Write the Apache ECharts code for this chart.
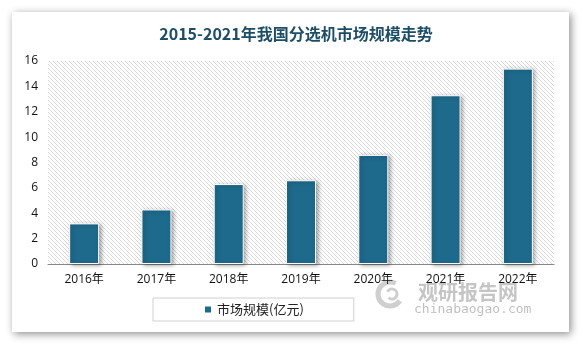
<!DOCTYPE html>
<html>
<head>
<meta charset="utf-8">
<script src="https://cdn.jsdelivr.net/npm/echarts@6/dist/echarts.min.js"></script>
<style>
html,body{margin:0;padding:0;background:#fff;}
#chart{width:583px;height:345px;}
</style>
</head>
<body>
<div id="chart"></div>
<script>
const categories = ['2016年','2017年','2018年','2019年','2020年','2021年','2022年'];
const marketSize = [3.2, 4.3, 6.3, 6.6, 8.6, 13.3, 15.4];
const seriesName = '市场规模(亿元)';
const titleText = '2015-2021年我国分选机市场规模走势';

const pc = document.createElement('canvas');
pc.width = 4; pc.height = 4;
const g = pc.getContext('2d');
g.fillStyle = '#ffffff'; g.fillRect(0,0,4,4);
g.strokeStyle = '#d9d9d9'; g.lineWidth = 1;
g.beginPath();
g.moveTo(0,0); g.lineTo(4,4);
g.moveTo(-2,2); g.lineTo(2,6);
g.moveTo(2,-2); g.lineTo(6,2);
g.stroke();

const chart = echarts.init(document.getElementById('chart'), null, {renderer:'canvas'});
chart.setOption({
  animation: false,
  backgroundColor: '#fff',
  graphic: [
    {type:'rect', z:-10, shape:{x:12,y:12,width:557,height:320},
     style:{fill:'#fff', shadowBlur:8, shadowColor:'rgba(0,0,0,0.45)', shadowOffsetX:2, shadowOffsetY:2}},
    {type:'text', z:-5, left:418, top:282,
     style:{text:'观研报告网', fill:'rgba(150,150,150,0.55)', font:'bold 20px "Noto Sans CJK SC"'}},
    {type:'text', z:-5, left:414, top:303,
     style:{text:'chinabaogao.com', fill:'rgba(150,150,150,0.6)', font:'13px "DejaVu Sans Mono"'}},
    {type:'arc', z:-5, shape:{cx:390,cy:294,r:12,startAngle:0.6,endAngle:5.2},
     style:{stroke:'rgba(160,160,160,0.5)', lineWidth:5, fill:null}},
    {type:'arc', z:-5, shape:{cx:392,cy:294,r:5,startAngle:3.6,endAngle:8.6},
     style:{stroke:'rgba(160,160,160,0.5)', lineWidth:3, fill:null}}
  ],
  title: {
    text: titleText,
    left: 291, top: 21, textAlign: 'center',
    textStyle: {fontSize: 16, fontWeight: 'bold', color: '#1d4e66', fontFamily: '"Noto Sans CJK SC", serif'}
  },
  grid: {
    left: 48, right: 29, top: 61, bottom: 81,
    show: true, borderWidth: 0,
    backgroundColor: {image: pc, repeat: 'repeat'}
  },
  legend: {
    left: 153, top: 298,
    padding: [5, 50, 5, 50],
    borderColor: '#d0d0d0', borderWidth: 1,
    itemWidth: 8, itemHeight: 8, itemGap: 10,
    icon: 'rect',
    textStyle: {fontSize: 13, color: '#222', fontFamily: '"Noto Sans CJK SC"'},
    data: [seriesName]
  },
  xAxis: {
    type: 'category',
    data: categories,
    axisLine: {lineStyle: {color: '#888', width: 1}},
    axisTick: {show: false},
    axisLabel: {color: '#111', fontSize: 12, margin: 10, fontFamily: '"Open Sans","Noto Sans CJK SC"'}
  },
  yAxis: {
    type: 'value',
    min: 0, max: 16, interval: 2,
    axisLine: {show: false},
    axisTick: {show: false},
    splitLine: {show: false},
    axisLabel: {color: '#111', fontSize: 12, margin: 10, fontFamily: '"Open Sans"'}
  },
  series: [{
    name: seriesName,
    type: 'bar',
    data: marketSize,
    barWidth: 30,
    itemStyle: {
      color: '#1e6a8c',
      borderColor: '#fff', borderWidth: 1,
      shadowBlur: 4, shadowColor: 'rgba(0,0,0,0.35)', shadowOffsetX: 2, shadowOffsetY: 1
    }
  }]
});
</script>
</body>
</html>
